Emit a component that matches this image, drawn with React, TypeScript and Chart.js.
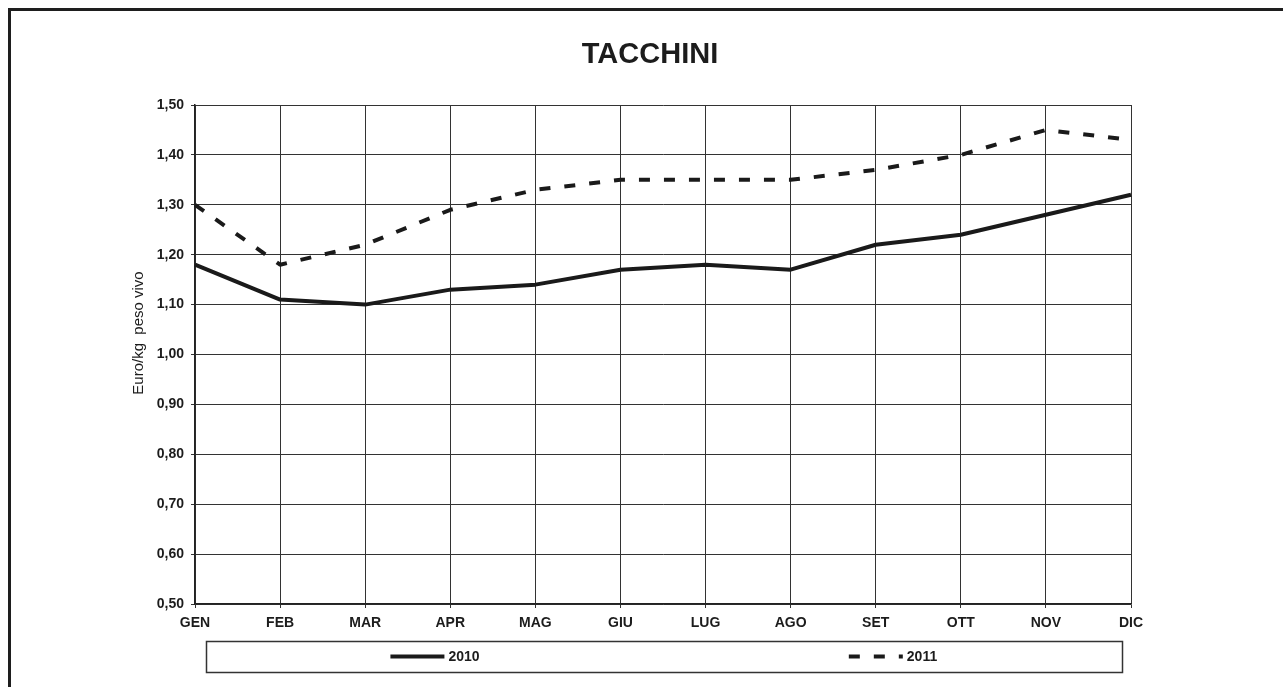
import React, { useEffect, useRef } from 'react';
import { Chart, registerables } from 'chart.js';

Chart.register(...registerables);

const months = ['GEN', 'FEB', 'MAR', 'APR', 'MAG', 'GIU', 'LUG', 'AGO', 'SET', 'OTT', 'NOV', 'DIC'];
const series2010 = [1.18, 1.11, 1.10, 1.13, 1.14, 1.17, 1.18, 1.17, 1.22, 1.24, 1.28, 1.32];
const series2011 = [1.30, 1.18, 1.22, 1.29, 1.33, 1.35, 1.35, 1.35, 1.37, 1.40, 1.45, 1.43];
const seriesLabels = ['2010', '2011'];
const chartTitle = 'TACCHINI';
const yAxisTitle = 'Euro/kg  peso vivo';
const yMin = 0.5;
const yMax = 1.5;
const yStep = 0.1;

const FONT = '"Liberation Sans", Arial, Helvetica, sans-serif';
const INK = '#1c1c1c';

const decorPlugin = {
  id: 'decor',
  beforeDraw(chart: any) {
    const ctx = chart.ctx;
    ctx.save();
    ctx.fillStyle = '#ffffff';
    ctx.fillRect(0, 0, chart.width, chart.height);
    ctx.fillStyle = '#1e1e1e';
    ctx.fillRect(8, 8, chart.width - 8, 3);
    ctx.fillRect(8, 8, 3, chart.height - 8);
    ctx.restore();
  },
  afterDraw(chart: any) {
    const ctx = chart.ctx;
    ctx.save();
    // title
    ctx.fillStyle = INK;
    ctx.font = `bold 29px ${FONT}`;
    ctx.textAlign = 'center';
    ctx.textBaseline = 'middle';
    ctx.fillText(chartTitle, 650, 55);

    // y axis title
    ctx.save();
    ctx.translate(139, 333);
    ctx.rotate(-Math.PI / 2);
    ctx.font = `15px ${FONT}`;
    ctx.textAlign = 'center';
    ctx.textBaseline = 'middle';
    ctx.fillText(yAxisTitle, 0, 0);
    ctx.restore();

    // legend box
    const bx = 206, by = 641, bw = 916, bh = 31;
    ctx.strokeStyle = '#333';
    ctx.lineWidth = 1.5;
    ctx.strokeRect(bx + 0.5, by + 0.5, bw, bh);
    const half = bw / 2;
    const cy = by + bh / 2;
    chart.data.datasets.forEach((ds: any, i: number) => {
      ctx.font = `bold 14px ${FONT}`;
      const tw = ctx.measureText(ds.label).width;
      const lineLen = 54;
      const gap = 4;
      const total = lineLen + gap + tw;
      const x0 = bx + half * i + half / 2 - total / 2;
      ctx.beginPath();
      ctx.setLineDash(ds.borderDash || []);
      ctx.lineCap = 'butt';
      ctx.lineWidth = 4;
      ctx.strokeStyle = ds.borderColor;
      ctx.moveTo(x0, cy);
      ctx.lineTo(x0 + lineLen, cy);
      ctx.stroke();
      ctx.setLineDash([]);
      ctx.fillStyle = INK;
      ctx.textAlign = 'left';
      ctx.textBaseline = 'middle';
      ctx.fillText(ds.label, x0 + lineLen + gap, cy + 1);
    });
    ctx.restore();
  },
};

export default function App() {
  const canvasRef = useRef<HTMLCanvasElement | null>(null);

  useEffect(() => {
    if (!canvasRef.current) return;
    const chart = new Chart(canvasRef.current, {
      type: 'line',
      data: {
        labels: months,
        datasets: [
          {
            label: seriesLabels[0],
            data: series2010,
            borderColor: '#1a1a1a',
            borderWidth: 4,
            pointRadius: 0,
            tension: 0,
            fill: false,
            borderJoinStyle: 'round',
          },
          {
            label: seriesLabels[1],
            data: series2011,
            borderColor: '#1a1a1a',
            borderWidth: 4,
            borderDash: [11, 14],
            pointRadius: 0,
            tension: 0,
            fill: false,
            borderJoinStyle: 'round',
          },
        ],
      },
      options: {
        responsive: false,
        animation: false,
        layout: { padding: { top: 105, right: 152, bottom: 0, left: 0 } },
        plugins: {
          legend: { display: false },
          title: { display: false },
          tooltip: { enabled: false },
        },
        scales: {
          x: {
            type: 'category',
            offset: false,
            grid: { display: true, color: '#333', lineWidth: 1, tickLength: 4, drawOnChartArea: true },
            border: { display: true, color: '#222', width: 1.5 },
            ticks: {
              color: INK,
              font: { family: FONT, size: 14, weight: 'bold' },
              padding: 7,
              maxRotation: 0,
              autoSkip: false,
            },
            afterFit(scale: any) {
              scale.height = 83;
            },
          },
          y: {
            min: yMin,
            max: yMax,
            grid: { display: true, color: '#333', lineWidth: 1, tickLength: 4, drawOnChartArea: true },
            border: { display: true, color: '#222', width: 1.5 },
            ticks: {
              stepSize: yStep,
              color: INK,
              font: { family: FONT, size: 14, weight: 'bold' },
              padding: 7,
              callback: (v: any) => Number(v).toFixed(2).replace('.', ','),
            },
            afterFit(scale: any) {
              scale.width = 195;
            },
          },
        },
      },
      plugins: [decorPlugin],
    } as any);
    return () => chart.destroy();
  }, []);

  return (
    <canvas
      ref={canvasRef}
      width={1283}
      height={687}
      style={{ position: 'absolute', left: 0, top: 0, width: 1283, height: 687, display: 'block' }}
    />
  );
}
